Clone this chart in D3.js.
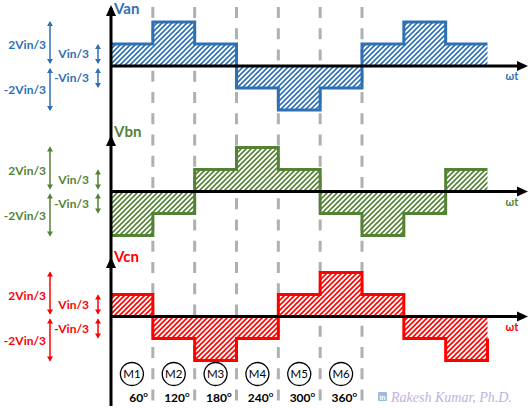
<!DOCTYPE html>
<html><head><meta charset="utf-8">
<script src="https://cdn.jsdelivr.net/npm/d3@7"></script>
<style>body{margin:0;background:#fff}svg{display:block}</style>
</head><body>
<svg id="c" width="530" height="408"></svg>
<script>
// ---- data ----
const stepAngles = [0, 60, 120, 180, 240, 300, 360, 420, 480];
const endAngle = 540;
const vanValues = [1, 2, 1, -1, -2, -1, 1, 2, 1];
const vbnValues = [-2, -1, 1, 2, 1, -1, -2, -1, 1];
const vcnValues = [1, -1, -2, -1, 1, 2, 1, -1, -2];
const tailValues = [null, null, -1];
const seriesNames = ["Van", "Vbn", "Vcn"];
const seriesColors = ["#2E70B4", "#548235", "#FF0000"];
const gridAngles = [60, 120, 180, 240, 300, 360];
const modeLabels = ["M1", "M2", "M3", "M4", "M5", "M6"];
const modeCenters = [30, 90, 150, 210, 270, 330];
const degreeLabels = ["60", "120", "180", "240", "300", "360"];
const levelLabels = ["2Vin/3", "-2Vin/3", "Vin/3", "-Vin/3"];

const svg = d3.select("#c");
const x = d3.scaleLinear().domain([0, endAngle]).range([111, 487.5]);
const zeros = [66, 191.5, 316.5];
const unit = 22;
const yScales = zeros.map(z => d3.scaleLinear().domain([-2, 2]).range([z + 2 * unit, z - 2 * unit]));
const allValues = [vanValues, vbnValues, vcnValues];
const font = "Lato, 'Open Sans', sans-serif";

const defs = svg.append("defs");
seriesColors.forEach((c, i) => {
  const p = defs.append("pattern").attr("id", "h" + i)
    .attr("patternUnits", "userSpaceOnUse").attr("width", 5).attr("height", 5);
  p.append("rect").attr("width", 5).attr("height", 5).attr("fill", "#fff");
  p.append("path").attr("d", "M-1,1 l2,-2 M0,5 l5,-5 M4,6 l2,-2")
    .attr("stroke", c).attr("stroke-width", 1.6);
});

// dashed grid
svg.append("g").selectAll("line").data(gridAngles).join("line")
  .attr("x1", d => x(d)).attr("x2", d => x(d))
  .attr("y1", 7).attr("y2", 405)
  .attr("stroke", "#b0b0b0").attr("stroke-width", 3)
  .attr("stroke-dasharray", "11,10.25");

// waveforms
allValues.forEach((vals, i) => {
  const y = yScales[i];
  const pts = stepAngles.map((a, k) => [a, vals[k]]);
  pts.push([endAngle, vals[vals.length - 1]]);
  const area = d3.area().curve(d3.curveStepAfter)
    .x(d => x(d[0])).y0(y(0)).y1(d => y(d[1]));
  svg.append("path").attr("d", area(pts)).attr("fill", "url(#h" + i + ")");
  const linePts = pts.slice();
  if (tailValues[i] !== null) linePts.push([endAngle, tailValues[i]]);
  const line = d3.line().curve(d3.curveStepAfter).x(d => x(d[0])).y(d => y(d[1]));
  svg.append("path").attr("d", line(linePts)).attr("fill", "none")
    .attr("stroke", seriesColors[i]).attr("stroke-width", 3);
});

// axes
const x0 = x(0);
svg.append("line").attr("x1", x0).attr("x2", x0).attr("y1", 8).attr("y2", 406)
  .attr("stroke", "#000").attr("stroke-width", 3);
const vTips = [5, 135, 257];
vTips.forEach(t => {
  svg.append("path").attr("d", `M${x0},${t} L${x0 - 5},${t + 11} L${x0 + 5},${t + 11} Z`).attr("fill", "#000");
});
zeros.forEach((z, i) => {
  svg.append("line").attr("x1", x0).attr("x2", 519).attr("y1", z).attr("y2", z)
    .attr("stroke", "#000").attr("stroke-width", 3);
  svg.append("path").attr("d", `M528,${z} L517,${z - 5} L517,${z + 5} Z`).attr("fill", "#000");
  svg.append("text").attr("x", 512).attr("y", z + 14).attr("text-anchor", "middle")
    .attr("font-family", font).attr("font-weight", "bold").attr("font-size", 11)
    .attr("fill", seriesColors[i]).text("ωt");
  // series label
  svg.append("text").attr("x", 114).attr("y", [14, 137, 262][i])
    .attr("font-family", font).attr("font-weight", "bold").attr("font-size", 15)
    .attr("fill", seriesColors[i]).text(seriesNames[i]);
  // level annotations
  const c = seriesColors[i];
  const dbl = (ax, ya, yb) => {
    svg.append("line").attr("x1", ax).attr("x2", ax).attr("y1", ya + 1).attr("y2", yb - 1)
      .attr("stroke", c).attr("stroke-width", 1.5);
    svg.append("path").attr("d", `M${ax},${ya} L${ax - 3},${ya + 5} L${ax + 3},${ya + 5} Z`).attr("fill", c);
    svg.append("path").attr("d", `M${ax},${yb} L${ax - 3},${yb - 5} L${ax + 3},${yb - 5} Z`).attr("fill", c);
  };
  dbl(50, z - 2 * unit - 1, z - 2);
  dbl(50, z + 2, z + 2 * unit + 1);
  dbl(98, z - unit, z - 2);
  dbl(98, z + 2, z + unit);
  const lbl = (tx, ty, s) => svg.append("text").attr("x", tx).attr("y", ty).attr("dy", "0.35em")
    .attr("text-anchor", "end").attr("font-family", font).attr("font-weight", "bold")
    .attr("font-size", 12).attr("fill", c).text(s);
  lbl(46, z - 21, levelLabels[0]);
  lbl(46, z + 24, levelLabels[1]);
  lbl(89, z - 12, levelLabels[2]);
  lbl(89, z + 12, levelLabels[3]);
});

// mode circles
const mg = svg.append("g").selectAll("g").data(modeLabels).join("g")
  .attr("transform", (d, k) => `translate(${x(modeCenters[k])},374)`);
mg.append("circle").attr("r", 11.5).attr("fill", "#fff").attr("stroke", "#000").attr("stroke-width", 1.3);
mg.append("text").attr("text-anchor", "middle").attr("dy", "0.36em")
  .attr("font-family", font).attr("font-size", 11.5).attr("fill", "#000").text(d => d);

// degree labels
const dl = svg.append("g").selectAll("text").data(degreeLabels).join("text")
  .attr("x", (d, k) => x(gridAngles[k]) - 5).attr("y", 402).attr("text-anchor", "end")
  .attr("font-family", font).attr("font-weight", "bold").attr("font-size", 12).attr("fill", "#000");
dl.append("tspan").text(d => d);
dl.append("tspan").attr("dy", -5).attr("font-size", 8).text("o");

// watermark
const wm = svg.append("g").attr("transform", "translate(378,392)");
wm.append("rect").attr("width", 9).attr("height", 9).attr("rx", 1).attr("fill", "#9dbbe0");
wm.append("text").attr("x", 4.5).attr("y", 7.5).attr("text-anchor", "middle")
  .attr("font-family", "Liberation Sans, sans-serif").attr("font-weight", "bold").attr("font-size", 7).attr("fill", "#fff").text("in");
svg.append("text").attr("x", 391).attr("y", 402)
  .attr("font-family", "'Liberation Serif', serif").attr("font-style", "italic").attr("font-size", 14)
  .attr("fill", "#beb2e0").text("Rakesh Kumar, Ph.D.");
</script>
</body></html>
